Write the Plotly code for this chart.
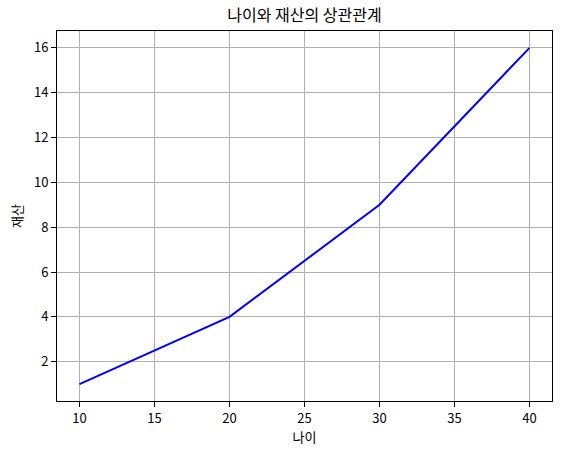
import plotly.graph_objects as go

ages = [10, 20, 30, 40]
wealth = [1, 4, 9, 16]
x_ticks = [10, 15, 20, 25, 30, 35, 40]
y_ticks = [2, 4, 6, 8, 10, 12, 14, 16]

FONT = "Noto Sans CJK KR"

fig = go.Figure()
fig.add_trace(go.Scatter(x=ages, y=wealth, mode="lines",
                         line=dict(color="blue", width=2)))

axis_common = dict(
    showgrid=True, gridcolor="#b0b0b0", gridwidth=1,
    showline=True, linecolor="black", linewidth=1, mirror=True,
    ticks="outside", ticklen=5, tickwidth=1, tickcolor="black",
    zeroline=False,
    tickfont=dict(family=FONT, size=13, color="black"),
)

fig.update_layout(
    width=561, height=454,
    margin=dict(l=57, r=9, t=31, b=53),
    paper_bgcolor="white", plot_bgcolor="white",
    showlegend=False,
    title=dict(text="나이와 재산의 상관관계", x=0.5, xanchor="center",
               y=1 - 15 / 454, yanchor="middle",
               xref="paper",
               font=dict(family=FONT, size=16, color="black")),
    font=dict(family=FONT, color="black"),
)
fig.update_xaxes(range=[8.5, 41.5], tickvals=x_ticks,
                 title=dict(text="나이", font=dict(family=FONT, size=13), standoff=6),
                 **axis_common)
fig.update_yaxes(range=[0.25, 16.75], tickvals=y_ticks,
                 title=dict(text="재산", font=dict(family=FONT, size=13), standoff=8),
                 **axis_common)

fig.write_html("out.html",
               config={"displayModeBar": False},
               post_script="document.body.style.margin='0';document.body.style.overflow='hidden';")
